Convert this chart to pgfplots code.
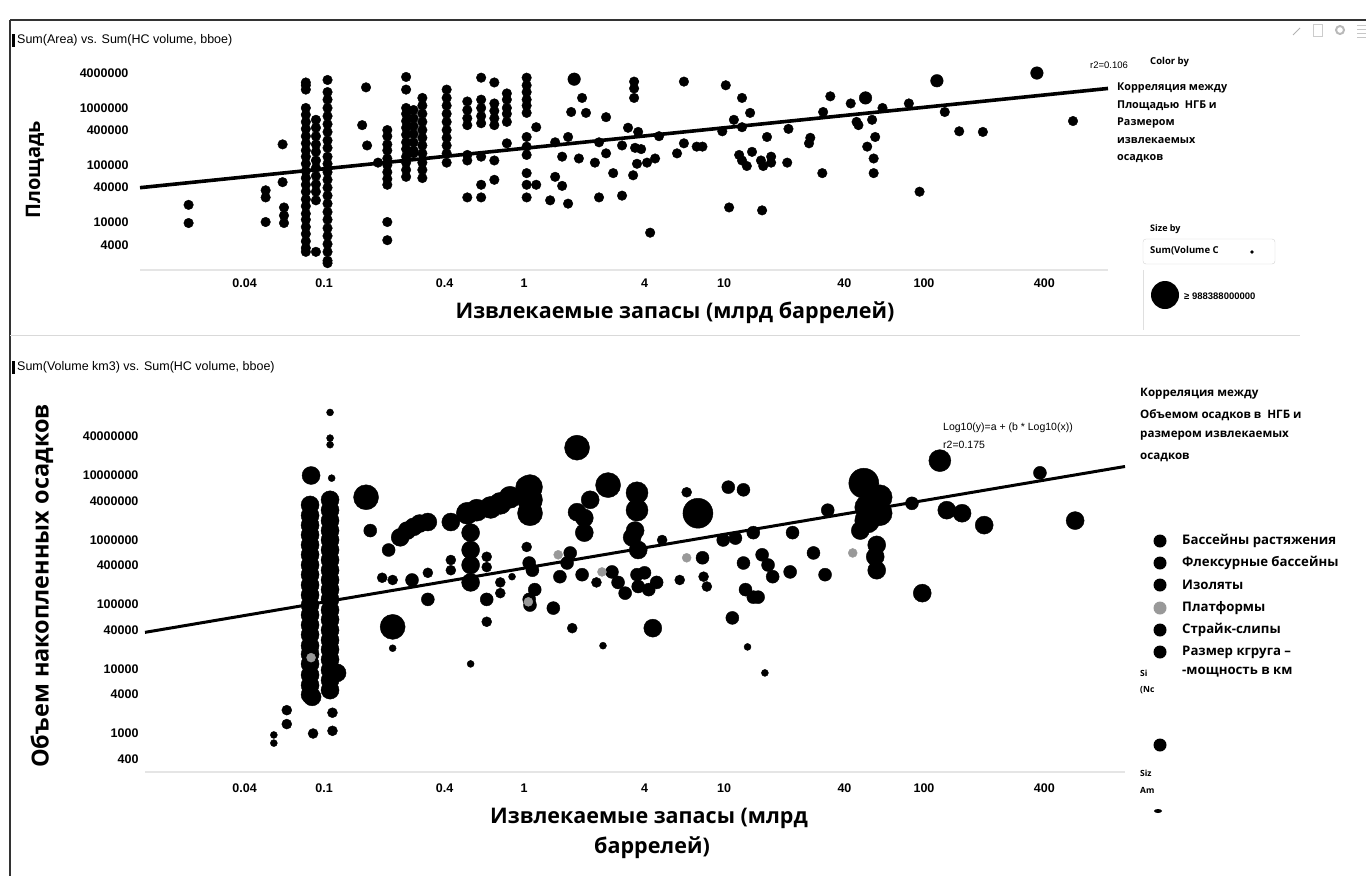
\documentclass[border=0pt]{standalone}
\usepackage{pgfplots}
\pgfplotsset{compat=1.18}
\usepackage{fontspec}
\setmainfont{Liberation Sans}
\newfontfamily\ruf{Open Sans}
\definecolor{plat}{gray}{0.6}
\definecolor{framec}{gray}{0.2}

\pgfplotsset{
  dots/.style={only marks, mark=*, mark size=#1, mark options={fill=black, draw=black}},
  grey/.style={only marks, mark=*, mark size=#1, mark options={fill=plat, draw=plat}},
  trend/.style={black, line width=3.6pt, no markers},
}

\begin{document}
\begin{tikzpicture}
\path[use as bounding box] (0pt,0pt) rectangle (1366pt,-876pt);

% ---------- top panel: area vs recoverable reserves ----------
\begin{axis}[
  scale only axis, xmode=log, ymode=log, clip=false,
  axis x line*=bottom, axis y line*=left,
  x axis line style={gray!20, line width=1.2pt, -},
  y axis line style={draw=none},
  tick style={draw=none},
  xtick={0.04,0.1,0.4,1,4,10,40,100,400},
  xticklabels={0.04,0.1,0.4,1,4,10,40,100,400},
  ticklabel style={font=\bfseries\fontsize{12.5}{13}\selectfont},
  xticklabel style={yshift=-5pt},
  yticklabel style={xshift=-8pt},
  at={(140pt,-270pt)}, anchor=south west,
  width=968pt, height=208pt,
  xmin=0.012, xmax=832, ymin=1440, ymax=6400000,
  ytick={4000,10000,40000,100000,400000,1000000,4000000},
  yticklabels={4000,10000,40000,100000,400000,1000000,4000000},
]
\addplot[dots=4.8] coordinates {
 (0.021,20000) (0.021,9600) (0.062,230000) (0.051,36000) (0.051,27000) (0.051,10000)
 (0.062,50000) (0.063,18000) (0.063,13000) (0.063,9600)
 (0.081,2800000) (0.081,2500000) (0.081,2100000) (0.081,1000000) (0.081,760000) (0.081,570000)
 (0.081,430000) (0.081,320000) (0.081,240000) (0.081,180000) (0.081,140000) (0.081,105000)
 (0.081,78000) (0.081,59000) (0.081,45000) (0.081,34000) (0.081,25000) (0.081,19000)
 (0.081,14000) (0.081,11000) (0.081,8200) (0.081,6200) (0.081,4600) (0.081,3500) (0.081,3000)
 (0.091,620000) (0.091,450000) (0.091,320000) (0.091,230000) (0.091,170000) (0.091,120000)
 (0.091,89000) (0.091,64000) (0.091,46000) (0.091,34000) (0.091,24000) (0.091,3000)
 (0.104,3100000) (0.104,1900000) (0.104,1400000) (0.104,1000000) (0.104,720000) (0.104,520000)
 (0.104,380000) (0.104,270000) (0.104,200000) (0.104,140000) (0.104,105000) (0.104,75000)
 (0.104,55000) (0.104,40000) (0.104,29000) (0.104,21000) (0.104,15000) (0.104,11000)
 (0.104,7800) (0.104,5700) (0.104,4100) (0.104,3000) (0.104,2100) (0.104,1900)
 (0.162,2300000) (0.155,500000) (0.164,220000) (0.186,110000)
 (0.207,410000) (0.207,320000) (0.207,230000) (0.207,180000) (0.207,130000) (0.207,100000)
 (0.207,75000) (0.207,57000) (0.207,45000) (0.207,10000) (0.207,4800)
 (0.257,3500000) (0.257,2100000) (0.257,1000000) (0.257,790000) (0.257,590000) (0.257,450000)
 (0.257,340000) (0.257,250000) (0.257,190000) (0.257,140000) (0.257,110000) (0.257,82000) (0.257,62000)
 (0.28,920000) (0.28,660000) (0.28,480000) (0.28,350000) (0.28,250000) (0.28,180000) (0.28,160000)
 (0.31,1500000) (0.31,1100000) (0.31,790000) (0.31,570000) (0.31,410000) (0.31,300000)
 (0.31,220000) (0.31,160000) (0.31,110000) (0.31,82000) (0.31,59000)
 (0.41,2100000) (0.41,1500000) (0.41,1100000) (0.41,790000) (0.41,570000) (0.41,410000)
 (0.41,300000) (0.41,220000) (0.41,160000) (0.41,110000)
 (0.52,1300000) (0.52,920000) (0.52,660000) (0.52,500000) (0.52,150000) (0.52,120000) (0.52,27000)
 (0.61,3400000) (0.61,1400000) (0.61,1000000) (0.61,720000) (0.61,540000) (0.61,140000) (0.61,45000) (0.61,27000)
 (0.71,2800000) (0.71,1200000) (0.71,890000) (0.71,660000) (0.71,500000) (0.71,120000) (0.71,55000)
 (0.82,1800000) (0.82,1400000) (0.82,1000000) (0.82,790000) (0.82,570000) (0.82,240000)
 (1.03,3400000) (1.03,2500000) (1.03,1900000) (1.03,1400000) (1.03,1100000) (1.03,820000)
 (1.03,310000) (1.03,210000) (1.03,150000) (1.03,72000) (1.03,45000) (1.03,27000)
 (1.15,460000) (1.15,45000) (1.35,24000) (1.43,250000) (1.43,62000)
 (1.95,1500000) (1.72,850000) (2.04,820000) (2.57,690000) (3.55,2900000) (3.55,2200000) (3.55,1500000)
 (6.3,2900000) (10.2,2500000) (12.3,1500000) (13.5,820000) (11.2,620000) (9.8,390000) (12.3,460000)
 (16.4,310000) (21,430000) (27,300000) (26.6,240000) (31,72000) (31.3,850000) (34,1600000)
 (43,1200000) (46,570000) (47,500000) (55,620000) (62,1000000) (57,310000) (52,210000)
 (56,130000) (56,72000) (84,1200000) (127,850000) (150,390000) (197,380000) (95,34000)
 (556,590000) (10.6,18000) (15.5,16000)
 (1.55,140000) (1.66,310000) (1.88,130000) (1.55,43000) (1.66,21000) (2.26,110000) (2.37,27000)
 (2.57,160000) (2.37,250000) (2.79,72000) (3.09,220000) (3.09,29000) (3.31,450000) (3.51,66000)
 (3.59,200000) (3.72,380000) (3.67,105000) (3.85,190000) (4.12,110000) (4.52,130000) (4.73,320000)
 (4.27,6500) (5.82,160000) (6.3,240000) (7.3,210000) (7.8,210000) (11.9,150000) (12.3,120000)
 (13.0,96000) (13.8,170000) (15.3,120000) (15.7,96000) (17.2,140000) (17.2,110000) (20.7,110000)
};
\addplot[dots=6.3] coordinates {
 (1.78,3200000) (51,1500000) (116,3000000) (367,4100000)
};
\addplot[trend] coordinates {(0.012,40000) (832,2200000)};
\end{axis}

% ---------- bottom panel: sediment volume vs recoverable reserves ----------
\begin{axis}[
  scale only axis, xmode=log, ymode=log, clip=false,
  axis x line*=bottom, axis y line*=left,
  x axis line style={gray!20, line width=1.2pt, -},
  y axis line style={draw=none},
  tick style={draw=none},
  xtick={0.04,0.1,0.4,1,4,10,40,100,400},
  xticklabels={0.04,0.1,0.4,1,4,10,40,100,400},
  ticklabel style={font=\bfseries\fontsize{12.5}{13}\selectfont},
  xticklabel style={yshift=-8pt},
  yticklabel style={xshift=-3pt},
  at={(145pt,-772pt)}, anchor=south west,
  width=980pt, height=377pt,
  xmin=0.0127, xmax=1012, ymin=253, ymax=177000000,
  ytick={400,1000,4000,10000,40000,100000,400000,1000000,4000000,10000000,40000000},
  yticklabels={400,1000,4000,10000,40000,100000,400000,1000000,4000000,10000000,40000000},
]
\addplot[dots=3.5] coordinates {
 (0.107,95000000) (0.107,38000000) (0.107,30000000) (0.109,9100000) (0.22,21000)
 (0.056,950) (0.056,710) (0.54,12000) (0.87,270000) (2.48,23000) (13.1,22000) (16,8700)
};
\addplot[dots=5] coordinates {
 (0.088,1000) (0.11,2100) (0.11,1100) (0.065,2300) (0.065,1400) (0.22,240000) (0.195,260000)
 (0.33,310000) (0.43,490000) (0.43,340000) (0.65,550000) (0.65,380000) (0.76,220000)
 (0.76,150000) (0.65,54000) (1.03,780000) (1.74,43000) (6.5,5500000) (4.9,1000000)
 (2.3,220000) (6.0,240000) (7.9,270000) (8.2,190000)
};
\addplot[dots=6.5] coordinates {
 (0.17,1400000) (0.21,700000) (0.275,240000) (0.33,120000) (0.65,120000) (1.06,440000)
 (1.06,120000) (1.7,630000) (1.1,340000) (1.13,170000) (1.07,98000) (1.4,88000) (1.51,270000)
 (1.64,440000) (1.95,290000) (2.75,320000) (2.95,220000) (3.2,150000) (3.67,290000) (4.0,310000)
 (3.72,190000) (4.2,170000) (4.6,220000) (7.8,530000) (10.5,6600000) (12.5,6000000) (9.9,1000000)
 (11.4,1070000) (14,1300000) (12.5,440000) (15.5,590000) (16.6,410000) (17.5,270000)
 (21.4,320000) (22,1300000) (12.8,170000) (14,130000) (14.8,130000) (33,2900000) (87,3700000)
 (380,11000000) (32,290000) (11,62000) (28,630000)
};
\addplot[dots=9] coordinates {
 (0.085,3500000) (0.085,2400000) (0.085,1700000) (0.085,1200000) (0.085,840000) (0.085,590000)
 (0.085,410000) (0.085,290000) (0.085,200000) (0.085,140000) (0.085,98000) (0.085,69000)
 (0.085,48000) (0.085,34000) (0.085,23000) (0.085,17000) (0.085,12000) (0.085,8100)
 (0.085,5600) (0.085,4000)
 (0.107,4200000) (0.107,2900000) (0.107,2000000) (0.107,1400000) (0.107,1000000) (0.107,700000)
 (0.107,490000) (0.107,340000) (0.107,240000) (0.107,170000) (0.107,120000) (0.107,82000)
 (0.107,58000) (0.107,40000) (0.107,28000) (0.107,20000) (0.107,14000) (0.107,9600)
 (0.107,6700) (0.107,4700)
 (0.086,10000000) (0.24,1100000) (0.26,1400000) (0.28,1600000) (0.30,1800000) (0.33,1900000)
 (0.43,1900000) (0.54,1300000) (0.54,700000) (0.54,410000) (0.54,220000) (1.84,2700000)
 (2.0,2200000) (2.0,1300000) (2.14,4200000) (4.4,43000) (48,1400000) (58,840000) (57,550000)
 (58,340000) (98,150000) (130,2900000) (155,2600000) (200,1700000) (570,2000000)
 (3.59,1400000) (3.47,1100000) (3.72,700000) (0.116,8700) (0.087,3700)
};
\addplot[dots=11] coordinates {
 (0.52,2600000) (0.58,2900000) (0.68,3200000) (0.76,3700000) (0.85,4600000) (1.03,6600000)
 (120,17000000) (3.67,5400000) (3.67,2900000)
};
\addplot[dots=12.5] coordinates {
 (0.162,4600000) (1.07,6600000) (1.07,4200000) (1.07,2600000) (2.63,7100000) (1.84,27000000)
 (0.22,45000) (52,3200000) (52,2000000) (56,2900000) (60,4600000) (60,2600000)
};
\addplot[dots=15] coordinates {(7.4,2600000) (50,7600000)};
\addplot[grey=4.5] coordinates {
 (0.086,15000) (1.48,590000) (2.45,320000) (6.5,530000) (44,630000) (1.05,110000)
};
\addplot[trend, line width=3pt] coordinates {(0.0127,37000) (1012,13800000)};
\end{axis}

% ---------- frame, titles, labels, legends ----------
\begin{scope}[x=1pt, y=-1pt]
\draw[framec, line width=1.6pt] (10,20) -- (1366,20);
\draw[framec, line width=1.6pt] (10,20) -- (10,876);
\draw[gray!30, line width=0.8pt] (10,335) -- (1300,335);

\fill[black] (12,34) rectangle (14.5,47);
\node[anchor=west, inner sep=0, font=\fontsize{12.5}{13}\selectfont] at (17,40.5) {Sum(Area) vs. Sum(HC volume, bboe)};
\fill[black] (12,361) rectangle (14.5,374);
\node[anchor=west, inner sep=0, font=\fontsize{12.5}{13}\selectfont] at (17,367.5) {Sum(Volume km3) vs. Sum(HC volume, bboe)};

\node[rotate=90, inner sep=0, font=\ruf\bfseries\fontsize{20}{22}\selectfont] at (35,170) {Площадь};
\node[rotate=90, inner sep=0, font=\ruf\bfseries\fontsize{23.5}{25}\selectfont] at (42,586) {Объем накопленных осадков};
\node[inner sep=0, font=\ruf\bfseries\fontsize{21.5}{24}\selectfont] at (675,313) {Извлекаемые запасы (млрд баррелей)};
\node[inner sep=0, font=\ruf\bfseries\fontsize{21.5}{24}\selectfont] at (649,818) {Извлекаемые запасы (млрд};
\node[inner sep=0, font=\ruf\bfseries\fontsize{21.5}{24}\selectfont] at (652,848) {баррелей)};

\node[anchor=west, inner sep=0, font=\fontsize{9.5}{10}\selectfont] at (1090,65) {r2=0.106};
\node[anchor=west, inner sep=0, font=\fontsize{10.5}{11}\selectfont] at (943,428) {Log10(y)=a + (b * Log10(x))};
\node[anchor=west, inner sep=0, font=\fontsize{10.5}{11}\selectfont] at (943,445) {r2=0.175};

% toolbar icons
\draw[gray!60, line width=1pt] (1293,35) -- (1300,28);
\draw[gray!40, line width=1pt] (1313,24) rectangle (1322,36);
\draw[gray!55, line width=2pt] (1340,30) circle (4);
\foreach \yy in {25,29,33,37} \draw[gray!45, line width=0.9pt] (1357,\yy) -- (1366,\yy);

% top legend
\node[anchor=west, inner sep=0, font=\ruf\bfseries\fontsize{9.5}{10}\selectfont] at (1150,62) {Color by};
\begin{scope}[font=\ruf\bfseries\fontsize{10.8}{12}\selectfont]
\node[anchor=west, inner sep=0] at (1117,88) {Корреляция между};
\node[anchor=west, inner sep=0] at (1117,106) {Площадью\ \ НГБ и};
\node[anchor=west, inner sep=0] at (1117,123) {Размером};
\node[anchor=west, inner sep=0] at (1117,141) {извлекаемых};
\node[anchor=west, inner sep=0] at (1117,159) {осадков};
\end{scope}
\node[anchor=west, inner sep=0, font=\ruf\bfseries\fontsize{9}{10}\selectfont] at (1150,229) {Size by};
\draw[gray!35, rounded corners=3pt] (1143,239) rectangle (1275,264);
\node[anchor=west, inner sep=0, font=\ruf\bfseries\fontsize{9.5}{10}\selectfont] at (1150,251) {Sum(Volume C};
\fill[black] (1252,252) circle (1.8);
\draw[gray!25] (1143,270) -- (1143,330);
\fill[black] (1165,295) circle (14);
\node[anchor=west, inner sep=0, font=\fontsize{9.5}{10}\selectfont] at (1184,296) {\textbf{\symbol{"2265} 988388000000}};

% bottom legend
\begin{scope}[font=\ruf\bfseries\fontsize{11.6}{13}\selectfont]
\node[anchor=west, inner sep=0] at (1140,394) {Корреляция между};
\node[anchor=west, inner sep=0] at (1140,415) {Объемом осадков в\ \ НГБ и};
\node[anchor=west, inner sep=0] at (1140,436) {размером извлекаемых};
\node[anchor=west, inner sep=0] at (1140,457) {осадков};
\end{scope}
\begin{scope}[font=\ruf\bfseries\fontsize{13.2}{14}\selectfont]
\fill[black] (1160,541) circle (6.5);
\node[anchor=west, inner sep=0] at (1182,541) {Бассейны растяжения};
\fill[black] (1160,563) circle (6.5);
\node[anchor=west, inner sep=0] at (1182,563) {Флексурные бассейны};
\fill[black] (1160,585) circle (6.5);
\node[anchor=west, inner sep=0] at (1182,585) {Изоляты};
\fill[plat] (1160,608) circle (6.5);
\node[anchor=west, inner sep=0] at (1182,608) {Платформы};
\fill[black] (1160,630) circle (6.5);
\node[anchor=west, inner sep=0] at (1182,630) {Страйк-слипы};
\fill[black] (1160,652) circle (6.5);
\node[anchor=west, inner sep=0] at (1182,652) {Размер кгруга –};
\node[anchor=west, inner sep=0] at (1182,672) {-мощность в км};
\end{scope}
\begin{scope}[font=\ruf\bfseries\fontsize{8.5}{9}\selectfont]
\node[anchor=west, inner sep=0] at (1140,673) {Si};
\node[anchor=west, inner sep=0] at (1140,690) {(Nc};
\node[anchor=west, inner sep=0] at (1140,773) {Siz};
\node[anchor=west, inner sep=0] at (1140,790) {Am};
\end{scope}
\fill[black] (1160,745) circle (6.5);
\fill[black] (1158,811) ellipse (4 and 2);
\end{scope}
\end{tikzpicture}
\end{document}
